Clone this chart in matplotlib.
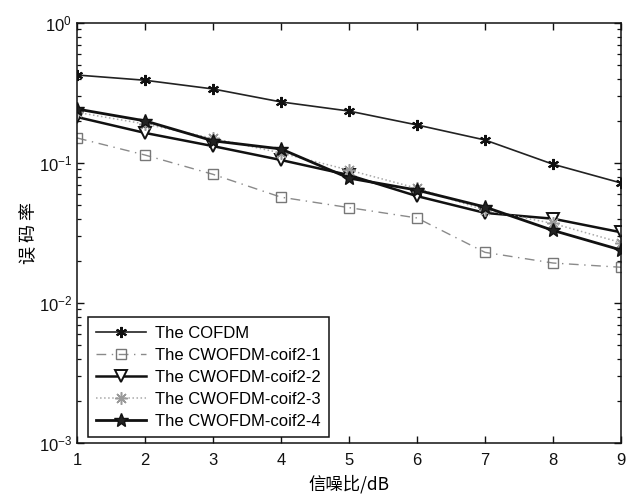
import matplotlib
matplotlib.use("Agg")
import matplotlib.pyplot as plt

# Signal-to-noise ratio (dB) and bit error rates for each scheme
snr_db = [1, 2, 3, 4, 5, 6, 7, 8, 9]
ber_cofdm = [0.425, 0.39, 0.338, 0.273, 0.235, 0.187, 0.146, 0.098, 0.072]
ber_coif2_1 = [0.151, 0.114, 0.083, 0.057, 0.048, 0.0405, 0.023, 0.0193, 0.018]
ber_coif2_2 = [0.213, 0.164, 0.132, 0.105, 0.082, 0.058, 0.044, 0.040, 0.032]
ber_coif2_3 = [0.23, 0.19, 0.15, 0.118, 0.089, 0.066, 0.046, 0.037, 0.027]
ber_coif2_4 = [0.243, 0.20, 0.144, 0.126, 0.078, 0.064, 0.0485, 0.033, 0.0239]

labels = ["The COFDM", "The CWOFDM-coif2-1", "The CWOFDM-coif2-2",
          "The CWOFDM-coif2-3", "The CWOFDM-coif2-4"]
x_ticks = [1, 2, 3, 4, 5, 6, 7, 8, 9]

plt.rcParams["font.family"] = ["Liberation Sans", "Noto Sans CJK SC", "DejaVu Sans"]
plt.rcParams["mathtext.fontset"] = "custom"
plt.rcParams["mathtext.rm"] = "Liberation Sans"
plt.rcParams["mathtext.it"] = "Liberation Sans"

fig = plt.figure(figsize=(6.34, 4.97), dpi=100)
ax = fig.add_axes([77 / 634, 1 - 443 / 497, 544 / 634, 420 / 497])

ax.plot(snr_db, ber_cofdm, color="#222222", lw=1.2, marker=(6, 2, 0),
        ms=8, mew=1.5, mec="#111111", label=labels[0])
ax.plot(snr_db, ber_coif2_1, color="#8a8a8a", lw=1.0, ls=(0, (7, 4, 1, 4)),
        marker="s", ms=7.5, mfc="none", mec="#777777", mew=1.0, label=labels[1])
ax.plot(snr_db, ber_coif2_2, color="#111111", lw=1.8, marker="v",
        ms=8, mfc="white", mec="#111111", mew=1.4, label=labels[2])
ax.plot(snr_db, ber_coif2_3, color="#a8a8a8", lw=1.1, ls=":",
        marker=(8, 2, 0), ms=9, mew=1.1, mec="#9a9a9a", label=labels[3])
ax.plot(snr_db, ber_coif2_4, color="#111111", lw=2.0, marker="*",
        ms=10, mfc="#222222", mec="#111111", mew=1.0, label=labels[4])

ax.set_yscale("log")
ax.set_xlim(1, 9)
ax.set_ylim(1e-3, 1)
ax.set_xticks(x_ticks)
ax.set_xticklabels([str(t) for t in x_ticks])

ax.tick_params(which="both", direction="in", top=True, right=True,
               labelsize=12, colors="#111111")
ax.tick_params(which="major", length=5, width=1.0)
ax.tick_params(which="minor", length=3, width=0.9)
ax.tick_params(axis="x", pad=7)
for sp in ax.spines.values():
    sp.set_linewidth(1.1)
    sp.set_color("#111111")

cjk = ["Noto Sans CJK SC", "DejaVu Sans"]
ax.set_xlabel("信噪比/dB", fontsize=12.5, family=cjk, labelpad=5)
ax.set_ylabel("误 码 率", fontsize=13, family=cjk)
ax.yaxis.set_label_coords(-0.072, 0.5)

leg = ax.legend(loc="lower left", bbox_to_anchor=(0.02, 0.014), borderaxespad=0,
                fancybox=False, edgecolor="#111111", framealpha=1, fontsize=12,
                handlelength=3.0, labelspacing=0.42, borderpad=0.5,
                handletextpad=0.5)
leg.get_frame().set_linewidth(1.1)

fig.savefig("out.png", dpi=100)
